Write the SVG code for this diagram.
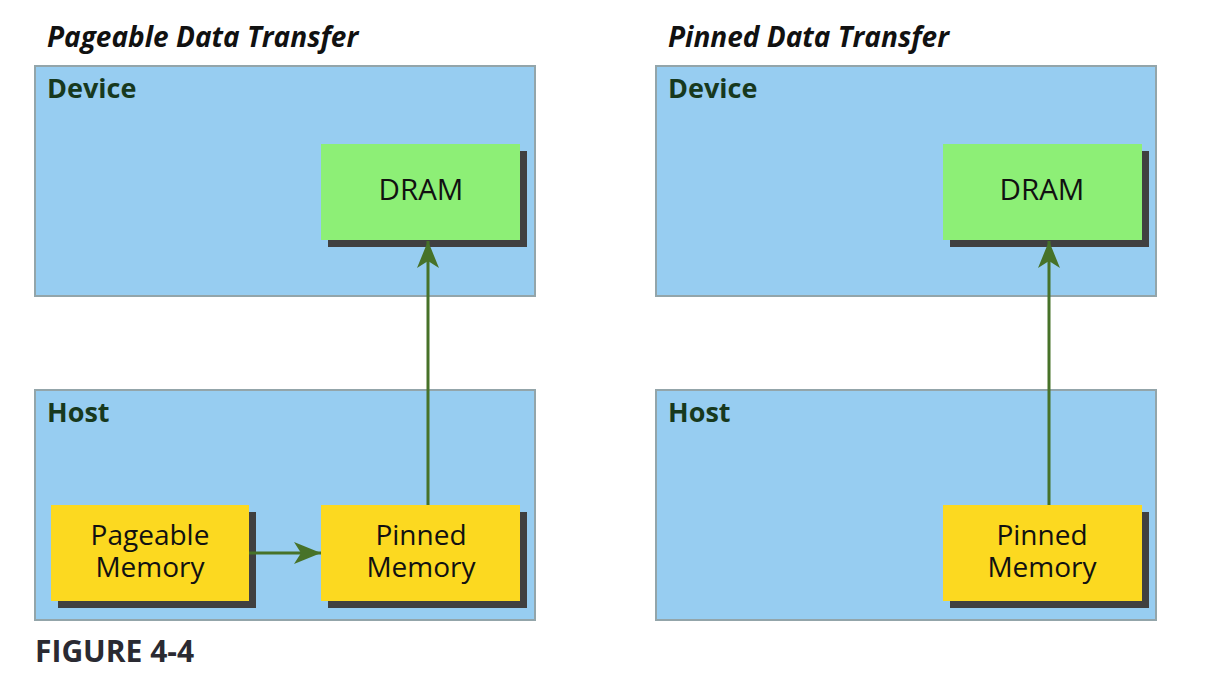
<svg xmlns="http://www.w3.org/2000/svg" width="1210" height="689" viewBox="0 0 1210 689">
<style>
.panel{fill:#97cdf1;stroke:#93a5aa;stroke-width:2}
.shadow{fill:#404040}
.dram{fill:#8def76}
.mem{fill:#fcd920}
.title{font-family:"Open Sans","Noto Sans",sans-serif;font-weight:bold;font-style:italic;font-size:28px;fill:#111}
.lbl{font-family:"Open Sans","Noto Sans",sans-serif;font-weight:bold;font-size:27px;fill:#17391e}
.node{font-family:"Open Sans","Noto Sans",sans-serif;font-size:28px;fill:#111;text-anchor:middle}
.big{font-size:29.5px}
.fig{font-family:"Open Sans","Noto Sans",sans-serif;font-weight:bold;font-size:30px;fill:#2a2a32}
.conn{stroke:#477229;stroke-width:3;fill:none}
</style>
<defs>
<marker id="ah2" viewBox="0 0 27 22" refX="27" refY="11" markerWidth="27" markerHeight="22" markerUnits="userSpaceOnUse" orient="auto">
<path d="M0,0 L27,11 L0,22 L7,11 Z" fill="#477229"/>
</marker>
</defs>
<text class="title" x="47" y="47">Pageable Data Transfer</text>
<text class="title" x="668" y="47">Pinned Data Transfer</text>
<g id="device-left">
<rect class="panel" x="35" y="66" width="500" height="230"/>
<text class="lbl" x="47" y="98">Device</text>
</g>
<g id="host-left">
<rect class="panel" x="35" y="390" width="500" height="230"/>
<text class="lbl" x="47" y="422">Host</text>
</g>
<g id="device-right">
<rect class="panel" x="656" y="66" width="500" height="230"/>
<text class="lbl" x="668" y="98">Device</text>
</g>
<g id="host-right">
<rect class="panel" x="656" y="390" width="500" height="230"/>
<text class="lbl" x="668" y="422">Host</text>
</g>
<g id="dram-left">
<rect class="shadow" x="328" y="151" width="199" height="96"/>
<rect class="dram" x="321" y="144" width="199" height="96"/>
<text class="node big" x="421" y="200">DRAM</text>
</g>
<g id="pageable-left">
<rect class="shadow" x="58" y="512" width="198" height="96"/>
<rect class="mem" x="51" y="505" width="198" height="96"/>
<text class="node" x="150" y="545">Pageable<tspan x="150" dy="32">Memory</tspan></text>
</g>
<g id="pinned-left">
<rect class="shadow" x="328" y="512" width="199" height="96"/>
<rect class="mem" x="321" y="505" width="199" height="96"/>
<text class="node" x="421" y="545">Pinned<tspan x="421" dy="32">Memory</tspan></text>
</g>
<g id="dram-right">
<rect class="shadow" x="950" y="151" width="199" height="96"/>
<rect class="dram" x="943" y="144" width="199" height="96"/>
<text class="node big" x="1042" y="200">DRAM</text>
</g>
<g id="pinned-right">
<rect class="shadow" x="950" y="512" width="199" height="96"/>
<rect class="mem" x="943" y="505" width="199" height="96"/>
<text class="node" x="1042" y="545">Pinned<tspan x="1042" dy="32">Memory</tspan></text>
</g>
<g id="connectors">
<line class="conn" x1="428" y1="505" x2="428" y2="241" marker-end="url(#ah2)"/>
<line class="conn" x1="249" y1="553" x2="321" y2="553" marker-end="url(#ah2)"/>
<line class="conn" x1="1049" y1="505" x2="1049" y2="241" marker-end="url(#ah2)"/>
</g>
<text class="fig" x="35" y="662">FIGURE 4-4</text>
</svg>
